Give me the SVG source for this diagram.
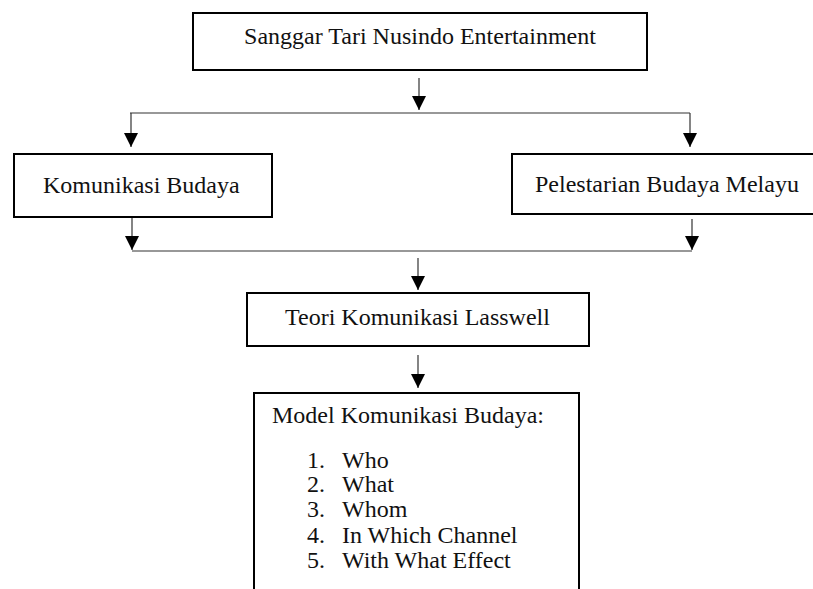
<svg xmlns="http://www.w3.org/2000/svg" width="813" height="589" viewBox="0 0 813 589">
<defs>
<style>
.box{fill:#fff;stroke:#000;stroke-width:2}
text{font-family:'Liberation Serif','Times New Roman',serif;font-size:24px;fill:#111}
.c{fill:none;stroke:#333;stroke-width:1.2}
</style>
<marker id="ah" markerUnits="userSpaceOnUse" markerWidth="14" markerHeight="14" viewBox="0 0 14 14" refX="7" refY="14" orient="0">
<path d="M0,0 L14,0 L7,14 Z" fill="#000"/>
</marker>
</defs>
<rect width="813" height="589" fill="#fff"/>
<g id="n1"><rect class="box" x="193" y="13" width="454" height="57"/><text x="420" y="44" text-anchor="middle">Sanggar Tari Nusindo Entertainment</text></g>
<g id="n2"><rect class="box" x="14" y="154" width="258" height="63"/><text x="43" y="193">Komunikasi Budaya</text></g>
<g id="n3"><rect class="box" x="512" y="154" width="320" height="60"/><text x="535" y="192">Pelestarian Budaya Melayu</text></g>
<g id="n4"><rect class="box" x="247" y="293" width="342" height="53"/><text x="285" y="325">Teori Komunikasi Lasswell</text></g>
<g id="n5"><path class="box" d="M254,600 V393 H579 V600"/>
<text x="272" y="423">Model Komunikasi Budaya:</text>
<text x="307" y="468">1.</text><text x="342" y="468">Who</text>
<text x="307" y="492">2.</text><text x="342" y="492">What</text>
<text x="307" y="517">3.</text><text x="342" y="517">Whom</text>
<text x="307" y="543">4.</text><text x="342" y="543">In Which Channel</text>
<text x="307" y="568">5.</text><text x="342" y="568">With What Effect</text>
</g>
<g id="connectors">
<path class="c" d="M419,78 V110" marker-end="url(#ah)"/>
<path class="c" d="M130,113 H690"/>
<path class="c" d="M131,113 V147" marker-end="url(#ah)"/>
<path class="c" d="M690,113 V147" marker-end="url(#ah)"/>
<path class="c" d="M132,218 V250" marker-end="url(#ah)"/>
<path class="c" d="M692,219 V250" marker-end="url(#ah)"/>
<path class="c" d="M132,251 H692"/>
<path class="c" d="M418,258 V290" marker-end="url(#ah)"/>
<path class="c" d="M418,355 V388" marker-end="url(#ah)"/>
</g>
</svg>
